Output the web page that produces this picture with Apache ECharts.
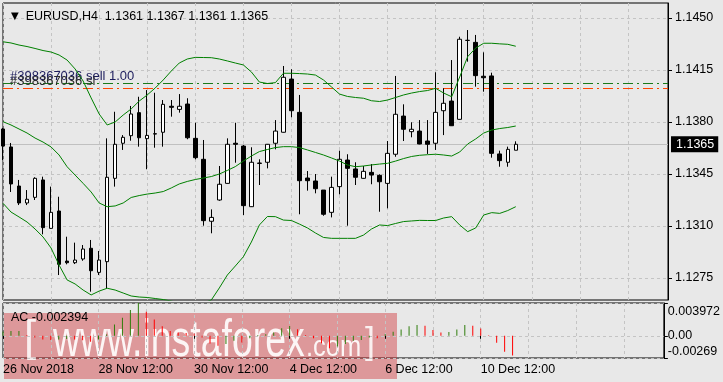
<!DOCTYPE html>
<html><head><meta charset="utf-8">
<script src="https://cdn.jsdelivr.net/npm/echarts@6/dist/echarts.min.js"></script>
<style>html,body{margin:0;padding:0;background:#e8e8e8;overflow:hidden}#c{width:723px;height:382px}</style>
</head><body><div id="c"></div><script>
// ---- data ----
const symbol = 'EURUSD', timeframe = 'H4';
const open  = [1.13753,1.13632,1.13369,1.13255,1.13293,1.13410,1.13084,1.13201,1.12864,1.12853,1.12878,1.12950,1.12788,1.12860,1.13421,1.13657,1.13708,1.13863,1.13688,1.13721,1.13731,1.13906,1.13885,1.13921,1.13690,1.13549,1.13132,1.13275,1.13387,1.13657,1.13638,1.13230,1.13521,1.13529,1.13657,1.13731,1.14089,1.13865,1.13423,1.13403,1.13342,1.13192,1.13365,1.13544,1.13484,1.13421,1.13461,1.13441,1.13387,1.13583,1.13840,1.13735,1.13739,1.13672,1.13657,1.13876,1.13941,1.13818,1.14349,1.14336,1.14108,1.14110,1.13585,1.13529,1.1361];
const high  = [1.13760,1.13659,1.13410,1.13342,1.13428,1.13432,1.13365,1.13297,1.13028,1.12988,1.12972,1.13006,1.12932,1.13690,1.13869,1.13712,1.13908,1.13970,1.14015,1.13997,1.13948,1.13948,1.13988,1.13960,1.13795,1.13679,1.13212,1.13504,1.13690,1.13795,1.13645,1.13630,1.13549,1.13652,1.13813,1.14177,1.14155,1.13982,1.13470,1.13450,1.13342,1.13432,1.13607,1.13583,1.13529,1.13504,1.13517,1.13448,1.13672,1.14110,1.13919,1.13798,1.13813,1.13813,1.14135,1.14027,1.14217,1.14374,1.14419,1.14386,1.14269,1.14132,1.13607,1.13634,1.1367];
const low   = [1.13544,1.13329,1.13241,1.13241,1.13275,1.13044,1.13080,1.12770,1.12842,1.12844,1.12866,1.12658,1.12770,1.12681,1.13365,1.13612,1.13674,1.13634,1.13482,1.13627,1.13634,1.13836,1.13863,1.13684,1.13549,1.13102,1.13051,1.13270,1.13385,1.13526,1.13174,1.13228,1.13376,1.13488,1.13616,1.13729,1.13832,1.13179,1.13338,1.13320,1.13169,1.13158,1.13313,1.13102,1.13376,1.13419,1.13381,1.13196,1.13219,1.13566,1.13672,1.13697,1.13650,1.13585,1.13612,1.13712,1.13773,1.13816,1.14206,1.14038,1.14004,1.13560,1.13499,1.13499,1.1361];
const close = [1.13638,1.13383,1.13255,1.13280,1.13421,1.13089,1.13192,1.12842,1.12853,1.12871,1.12945,1.12799,1.12871,1.13428,1.13650,1.13697,1.13854,1.13694,1.13710,1.13719,1.13919,1.13899,1.13906,1.13694,1.13560,1.13136,1.13158,1.13381,1.13650,1.13650,1.13237,1.13529,1.13524,1.13650,1.13739,1.14101,1.13876,1.13405,1.13405,1.13351,1.13179,1.13360,1.13549,1.13488,1.13428,1.13468,1.13443,1.13398,1.13589,1.13852,1.13751,1.13751,1.13652,1.13650,1.13865,1.13926,1.13775,1.14357,1.14350,1.14112,1.14098,1.13589,1.13540,1.13616,1.1365];
const bbUpper  = [1.14340,1.14332,1.14318,1.14308,1.14295,1.14281,1.14271,1.14251,1.14217,1.14157,1.14076,1.13962,1.13854,1.13780,1.13800,1.13847,1.13888,1.13941,1.13982,1.14029,1.14083,1.14143,1.14197,1.14224,1.14235,1.14234,1.14233,1.14224,1.14211,1.14197,1.14184,1.14137,1.14069,1.14059,1.14065,1.14128,1.14128,1.14126,1.14123,1.14116,1.14083,1.14036,1.13988,1.13972,1.13965,1.13960,1.13943,1.13938,1.13948,1.13965,1.13982,1.13995,1.14005,1.14012,1.14027,1.13995,1.13970,1.14103,1.14240,1.14298,1.14330,1.14330,1.14326,1.14323,1.14310];
const bbMiddle = [1.13802,1.13780,1.13753,1.13726,1.13692,1.13665,1.13632,1.13578,1.13499,1.13443,1.13387,1.13329,1.13255,1.13230,1.13235,1.13255,1.13292,1.13305,1.13315,1.13322,1.13332,1.13356,1.13383,1.13400,1.13413,1.13423,1.13433,1.13450,1.13474,1.13500,1.13537,1.13571,1.13601,1.13615,1.13628,1.13634,1.13634,1.13628,1.13612,1.13595,1.13578,1.13558,1.13537,1.13511,1.13499,1.13504,1.13511,1.13517,1.13522,1.13537,1.13554,1.13568,1.13576,1.13580,1.13583,1.13578,1.13571,1.13598,1.13652,1.13686,1.13726,1.13746,1.13756,1.13763,1.13773];
const bbLower  = [1.13253,1.13194,1.13161,1.13127,1.13080,1.13026,1.12952,1.12837,1.12737,1.12710,1.12669,1.12636,1.12662,1.12681,1.12669,1.12649,1.12629,1.12622,1.12619,1.12612,1.12605,1.12595,1.12582,1.12575,1.12575,1.12582,1.12602,1.12683,1.12770,1.12831,1.12893,1.12992,1.13107,1.13164,1.13163,1.13140,1.13137,1.13113,1.13087,1.13053,1.13023,1.13017,1.13017,1.13017,1.13017,1.13039,1.13080,1.13107,1.13103,1.13117,1.13130,1.13134,1.13138,1.13137,1.13137,1.13154,1.13163,1.13107,1.13062,1.13087,1.13174,1.13190,1.13185,1.13204,1.13230];
const acValues = [0.00052,0.00057,0.00058,0.00010,-0.00020,-0.00045,-0.00050,-0.00045,-0.00040,-0.00045,-0.00055,-0.00073,-0.00045,0.00015,0.00137,0.00218,0.00311,0.003972,0.00291,0.00197,0.00117,0.00057,0.00040,0.00035,0.00028,-0.00020,-0.00093,-0.00120,-0.00100,-0.00060,-0.00080,-0.00030,0.00010,0.00020,0.00040,0.00090,0.00120,0.00080,0.00010,-0.00030,-0.00090,-0.00150,-0.00130,-0.00100,-0.00060,-0.00050,-0.00020,-0.00030,0.00020,0.00048,0.00076,0.00117,0.00130,0.00121,0.00069,0.00040,0.00045,0.00076,0.00130,0.00121,0.00088,0.00008,-0.00085,-0.00194,-0.002394];
const yTicks  = [1.1275,1.1310,1.1345,1.1380,1.1415,1.1450];
const acTicks = [0.003972,0,-0.00269];
const xLabels   = ['26 Nov 2018','28 Nov 12:00','30 Nov 12:00','4 Dec 12:00','6 Dec 12:00','10 Dec 12:00'];
const xLabelIdx = [0,12,24,36,48,60];
const totalSlots = 84;
const priceMin = 1.12602, priceMax = 1.14601;
const orderPrice = 1.14060, slPrice = 1.14029;
const orderLabel = '#398367036 sell 1.00', slLabel = '#398367036 sl';

// ---- chart ----
const FONT = 'Liberation Sans';
const FS = 12.5;
const GREEN = '#008000', AC_GREEN = '#2f7d0c', AC_RED = '#ff0000';
const N = open.length;
const cats = Array.from({length: totalSlots}, (_, i) => String(i));
const candleData = open.map((o, i) => [o, close[i], low[i], high[i]]);
const acData = acValues.map((v, i) => ({
  value: v,
  itemStyle: {color: (i === 0 || v > acValues[i-1]) ? AC_GREEN : AC_RED}
}));
const acMax = acTicks[0], acMin = acTicks[2];
const labelAt = (i) => xLabelIdx.indexOf(i) >= 0;
const gridLine = {show: true, interval: 5, lineStyle: {color: '#c4c4c4', type: [3, 3], width: 1}};

const chart = echarts.init(document.getElementById('c'), null, {renderer: 'canvas'});
chart.setOption({
  animation: false,
  backgroundColor: '#e8e8e8',
  textStyle: {fontFamily: FONT},
  title: [
    {left: 6, top: 5, text: '{tri|▼}  ' + symbol + ',' + timeframe + '  ' +
        [open[N-1], high[N-1], low[N-1], close[N-1]].map(v => v.toFixed(4)).join(' '),
     textStyle: {fontSize: FS, fontWeight: 'normal', color: '#000', fontFamily: FONT,
       rich: {tri: {fontSize: 10, fontFamily: 'DejaVu Sans', color: '#000'}}}},
    {left: 6, top: 306, text: 'AC ' + acValues[N-1].toFixed(6),
     textStyle: {fontSize: FS, fontWeight: 'normal', color: '#000', fontFamily: FONT}}
  ],
  grid: [
    {left: 3, top: 3, width: 665, height: 297, show: true, borderColor: '#000', borderWidth: 1, backgroundColor: 'transparent'},
    {left: 3, top: 303, width: 665, height: 55, show: true, borderColor: '#000', borderWidth: 1, backgroundColor: 'transparent'}
  ],
  xAxis: [
    {type: 'category', gridIndex: 0, data: cats, boundaryGap: false,
     axisLine: {show: false}, axisTick: {show: false}, axisLabel: {show: false}, splitLine: gridLine},
    {type: 'category', gridIndex: 1, data: cats, boundaryGap: false,
     axisLine: {show: false},
     axisTick: {show: true, interval: labelAt, length: 3, lineStyle: {color: '#000'}},
     axisLabel: {show: true, interval: labelAt, align: 'left', margin: 5, color: '#000', fontSize: FS, fontFamily: FONT,
       formatter: (v) => { const k = xLabelIdx.indexOf(Number(v)); return k >= 0 ? xLabels[k] : ''; }},
     splitLine: gridLine}
  ],
  yAxis: [
    {type: 'value', gridIndex: 0, position: 'right', min: priceMin, max: priceMax,
     axisLine: {show: true, lineStyle: {color: '#000'}},
     axisTick: {show: true, customValues: yTicks, length: 4, lineStyle: {color: '#000'}},
     axisLabel: {customValues: yTicks, formatter: (v) => v.toFixed(4), margin: 7, color: '#000', fontSize: FS, fontFamily: FONT},
     splitLine: {show: true, lineStyle: {color: '#c4c4c4', type: [3, 3]}}},
    {type: 'value', gridIndex: 1, position: 'right', min: acMin, max: acMax,
     axisLine: {show: true, lineStyle: {color: '#000'}},
     axisTick: {show: true, customValues: acTicks, length: 4, lineStyle: {color: '#000'}},
     axisLabel: {customValues: acTicks, margin: 4, color: '#000', fontSize: FS, fontFamily: FONT,
       formatter: (v) => v === acMax ? '{t|' + acTicks[0].toFixed(6) + '}' : (v === acMin ? '{b|' + acTicks[2].toFixed(5) + '}' : '0.00'),
       rich: {t: {padding: [17, 0, 0, 0], fontSize: FS, color: '#000'}, b: {padding: [0, 0, 13, 0], fontSize: FS, color: '#000'}}},
     splitLine: {show: true, lineStyle: {color: '#c4c4c4', type: [3, 3]}}}
  ],
  series: [
    {type: 'candlestick', xAxisIndex: 0, yAxisIndex: 0, data: candleData, barWidth: 4, z: 2,
     itemStyle: {color: '#ffffff', color0: '#000000', borderColor: '#000000', borderColor0: '#000000', borderWidth: 1}},
    {type: 'line', xAxisIndex: 0, yAxisIndex: 0, data: bbUpper, symbol: 'none', silent: true, z: 3, lineStyle: {color: GREEN, width: 1},
     markLine: {silent: true, symbol: ['none', 'none'], animation: false, precision: 5, z: 1, data: [
       {yAxis: close[N-1], lineStyle: {color: '#c0c0c0', type: 'solid', width: 1},
        label: {show: true, position: 'end', formatter: close[N-1].toFixed(4), backgroundColor: '#000', color: '#fff',
                padding: [2, 4, 1, 5], distance: 3, fontSize: FS, fontFamily: FONT}},
       {yAxis: orderPrice, lineStyle: {color: '#1a7a1a', type: [10, 4, 2, 4], width: 1},
        label: {show: true, position: 'insideStartTop', formatter: orderLabel, color: '#1c1c5c', fontSize: 13, fontFamily: FONT,
                distance: 0, padding: [0, 0, 0, 7]}},
       {yAxis: slPrice, lineStyle: {color: '#ff4500', type: [10, 4, 2, 4], width: 1},
        label: {show: true, position: 'insideStartTop', formatter: slLabel, color: '#2a2a2a', fontSize: 13, fontFamily: FONT,
                distance: 0, padding: [0, 0, 0, 7]}}
     ]}},
    {type: 'line', xAxisIndex: 0, yAxisIndex: 0, data: bbMiddle, symbol: 'none', silent: true, z: 3, lineStyle: {color: GREEN, width: 1}},
    {type: 'line', xAxisIndex: 0, yAxisIndex: 0, data: bbLower, symbol: 'none', silent: true, z: 3, lineStyle: {color: GREEN, width: 1}},
    {type: 'bar', xAxisIndex: 1, yAxisIndex: 1, data: acData, barWidth: 1, silent: true}
  ],
  graphic: [{
    type: 'group', silent: true, z: 100,
    children: [
      {type: 'rect', shape: {x: 4, y: 313, width: 393, height: 66}, style: {fill: 'rgba(205,40,45,0.42)'}},
      {type: 'text', x: 24, y: 361, style: {text: '[', font: '300 44px "Liberation Sans"', fill: 'rgba(255,255,255,0.85)', verticalAlign: 'bottom'}},
      {type: 'text', x: 53, y: 368, scaleX: 0.72, style: {text: 'www.instaforex', font: '52px "Liberation Sans"', fill: 'rgba(255,255,255,0.9)', verticalAlign: 'bottom'}},
      {type: 'text', x: 306, y: 363, scaleX: 0.85, style: {text: '.com', font: '30px "Liberation Sans"', fill: 'rgba(255,255,255,0.9)', verticalAlign: 'bottom'}},
      {type: 'text', x: 365, y: 361, style: {text: ']', font: '300 36px "Liberation Sans"', fill: 'rgba(255,255,255,0.85)', verticalAlign: 'bottom'}}
    ]
  }]
});
</script></body></html>
